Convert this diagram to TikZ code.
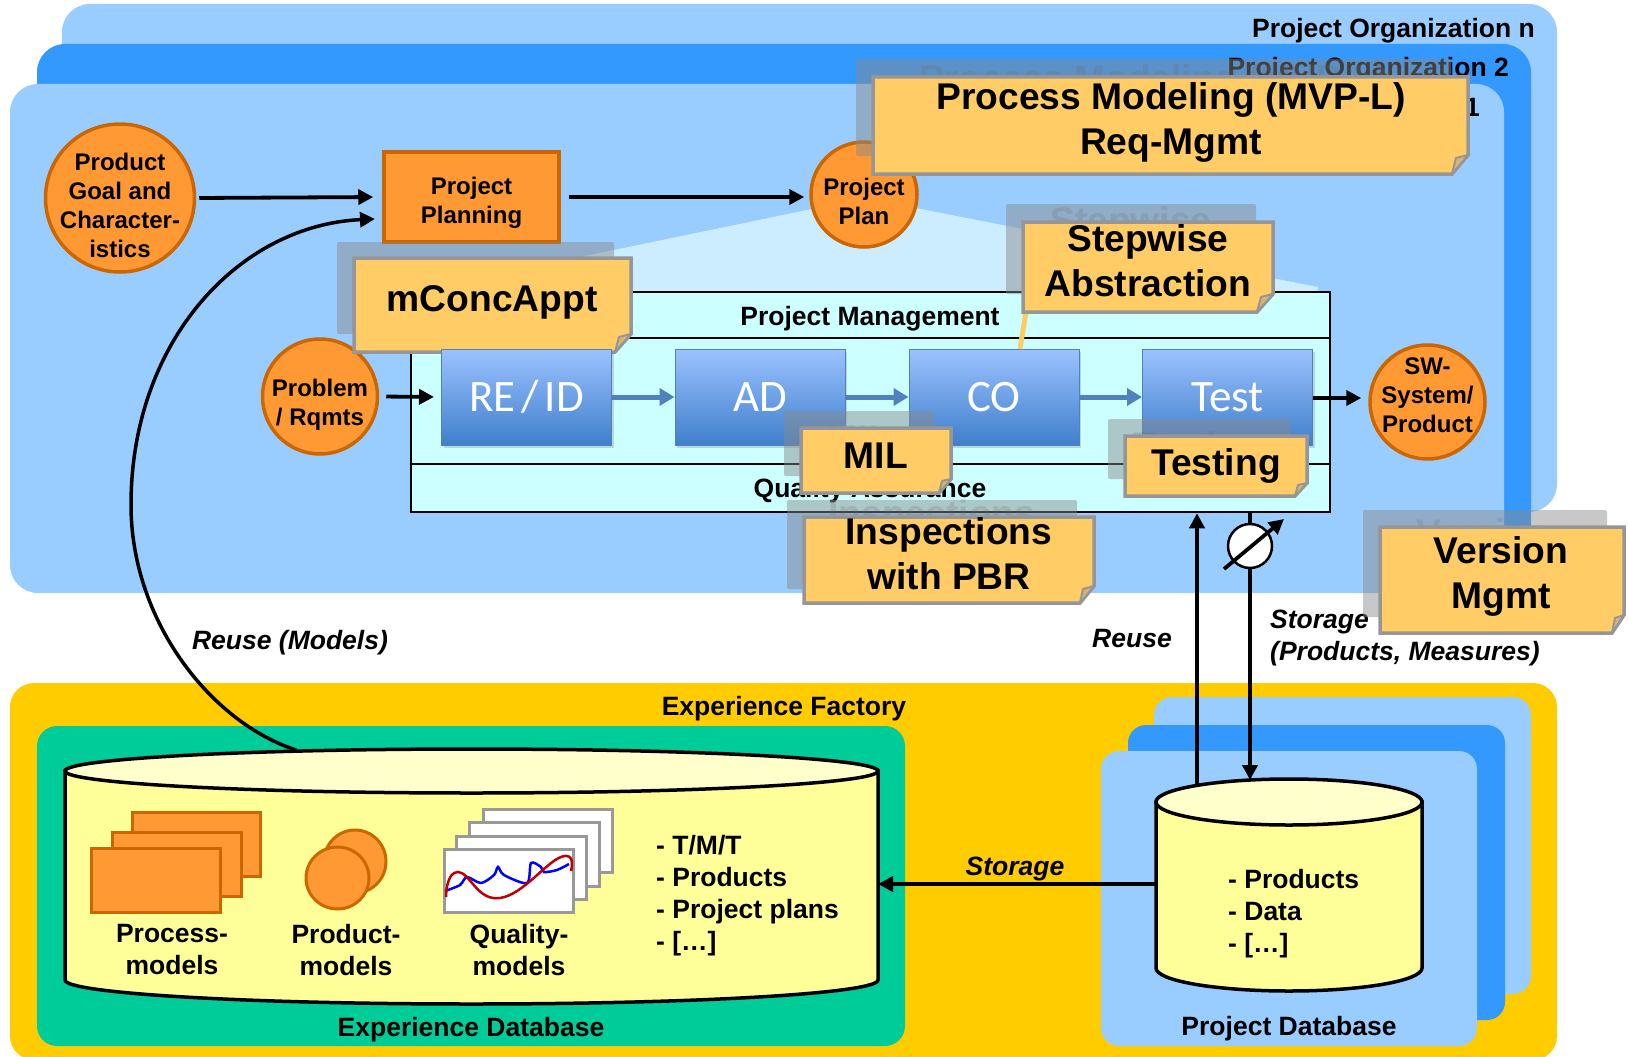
\documentclass[tikz,border=0pt]{standalone}
\usepackage{fontspec}
\usepackage{xcolor}
\setmainfont{Liberation Sans}
\newfontfamily\boxfont{Carlito}
\usetikzlibrary{arrows.meta,shapes.geometric,shadows}

\definecolor{orgblue}{HTML}{99CCFF}
\definecolor{orgdeep}{HTML}{3399FF}
\definecolor{conefill}{HTML}{CCECFF}
\definecolor{framefill}{HTML}{CCFFFF}
\definecolor{orangefill}{HTML}{FF9933}
\definecolor{orangeline}{HTML}{CC6600}
\definecolor{notefill}{HTML}{FFCC66}
\definecolor{noteline}{HTML}{969696}
\definecolor{shadegray}{HTML}{8A8A8A}
\definecolor{factory}{HTML}{FFCC00}
\definecolor{greenbase}{HTML}{00CC99}
\definecolor{dbside}{HTML}{FFFF99}
\definecolor{dbtop}{HTML}{FFFFCC}
\definecolor{stepline}{HTML}{4F81BD}
\definecolor{steptop}{HTML}{9CC2FF}
\definecolor{stepbottom}{HTML}{3F7FCC}

\tikzset{
  label24/.style={font=\fontsize{24}{29}\selectfont\bfseries,align=center,inner sep=0pt},
  label25/.style={font=\fontsize{26.5}{29}\selectfont\bfseries,align=center,inner sep=0pt},
  label32/.style={font=\fontsize{26.5}{32}\selectfont\bfseries,align=center,inner sep=0pt},
  listtext/.style={label32,align=left,anchor=west},
  slanted/.style={font=\fontsize{26.5}{30}\selectfont\bfseries\itshape,align=left,inner sep=0pt},
  blob/.style={ellipse,draw=orangeline,fill=orangefill,line width=3.5pt,inner sep=0pt},
  orangebox/.style={draw=orangeline,fill=orangefill,line width=3pt},
  chartbox/.style={draw=black!40,fill=white,line width=3pt},
  stepbox/.style={draw=stepline,line width=1pt,top color=steptop,bottom color=stepbottom,
    minimum width=170pt,minimum height=96pt,inner sep=0pt,text=white,font=\fontsize{45}{50}\selectfont\boxfont,
    drop shadow={shadow xshift=2pt,shadow yshift=-3pt,opacity=.3}},
  steparrow/.style={draw=stepline,line width=5pt,-{Triangle[length=15pt,width=17pt]}},
  arrow/.style={line width=3.8pt,-{Triangle[length=15pt,width=15pt]}},
  noteshade/.style={fill=shadegray,fill opacity=.47,rounded corners=2pt},
  notebody/.style={draw=noteline,fill=notefill,line width=3.5pt,line join=miter},
  notefold/.style={draw=noteline,fill=notefill!60!noteline,line width=2pt,line join=round},
  notetext/.style={font=\fontsize{37.2}{45}\selectfont\bfseries,align=center,inner sep=0pt},
  ghost/.style={notetext,text=black!60,text opacity=.2},
  cylinder body/.style={draw=black,fill=dbside,line width=3.5pt},
  cylinder lid/.style={draw=black,fill=dbtop,line width=3.5pt}
}

\begin{document}
\begin{tikzpicture}[x=1pt,y=-1pt]
\useasboundingbox (0,0) rectangle (1628,1057) ;

%project organizations
\fill [orgblue,rounded corners=28pt] (62,4) rectangle (1557,512) ;
\node [label25,anchor=east] (orgn) at (1535,31) {Project Organization n} ;
\fill [orgdeep,rounded corners=28pt] (37,44) rectangle (1531,560) ;
\node [label25,anchor=east] (orgtwo) at (1509,70) {Project Organization 2} ;
\fill [orgblue,rounded corners=28pt] (10,84) rectangle (1504,593) ;
\node [label25,anchor=east] (orgone) at (1480,110) {Project Organization 1} ;

%cone under the plan
\fill [conefill] (411,292) -- (865,198) -- (1318,287) -- (1318,320) -- (411,320) -- cycle ;

%project management frame
\node [draw,fill=framefill,line width=2.5pt,minimum width=919pt,minimum height=220pt,inner sep=0pt] (frame) at (870.5,402) {} ;
\draw [line width=2.5pt] (411,338) -- (1330,338) ;
\draw [line width=2.5pt] (411,464) -- (1330,464) ;
\node [label25] (mgmt) at (870,319) {Project Management} ;
\node [label25] (qa) at (870,491) {Quality Assurance} ;

%upper row
\node [blob,minimum width=149pt,minimum height=148pt,label={[label24,yshift=-7pt]center:{Product\\Goal and\\Character-\\istics}}] (goal) at (120,198) {} ;
\node [draw=orangeline,fill=orangefill,line width=3.5pt,minimum width=175pt,minimum height=90pt,label={[label24,yshift=-6pt]center:{Project\\Planning}}] (planning) at (471.5,197) {} ;
\node [blob,minimum width=106pt,minimum height=105pt,label={[label24,yshift=-7pt]center:{Project\\Plan}}] (plan) at (864,194.5) {} ;

%problem oval
\node [blob,minimum width=115pt,minimum height=115pt,label={[label24,yshift=-8pt]center:{Problem\\/ Rqmts}}] (problem) at (320,396.5) {} ;

%mconcappt note
\fill [noteshade,shift={(354,258)}] (-17,-16) rectangle (260,76) ;
\node [ghost] at (475,286) {mConcAppt} ;
\draw [notebody,shift={(354,258)}] (0,0) -- (277,0) -- (277,76) -- (261,94) -- (0,94) -- cycle ;
\draw [notefold,shift={(354,258)}] (261,94) -- (265,79) -- (277,76) -- cycle ;
\node [notetext] (conceptnote) at (492,302) {mConcAppt} ;

%process row
\node [stepbox] (reid) at (526.5,397) {\spaceskip=.13em RE / ID} ;
\node [stepbox] (ad) at (760,397) {AD} ;
\node [stepbox] (co) at (994,397) {CO} ;
\node [stepbox] (test) at (1227.5,397) {Test} ;
\node [blob,minimum width=115pt,minimum height=114pt,label={[label24,yshift=7pt]center:{SW-\\System/\\Product}}] (product) at (1427.5,402) {} ;

\draw [steparrow] (reid) -- (ad) ;
\draw [steparrow] (ad) -- (co) ;
\draw [steparrow] (co) -- (test) ;

%upper and process arrows
\draw [arrow,shorten <=3pt,shorten >=9pt] (goal.east) -- (planning.west) ;
\draw [arrow,shorten <=8pt,shorten >=5pt] (planning.east) -- (plan.west |- planning.east) ;
\draw [arrow,shorten <=7pt,shorten >=7pt] (problem.east) -- (reid.west) ;
\draw [arrow,shorten >=7pt] (test.east |- 0,398) -- (product.west |- 0,398) ;

%experience factory
\fill [factory,rounded corners=24pt] (10,683) rectangle (1557,1060) ;
\node [label25] (factorytitle) at (784,709) {Experience Factory} ;
\fill [greenbase,rounded corners=20pt] (37,726) rectangle (905,1046) ;
\node [label25] (exptitle) at (471,1030) {Experience Database} ;

%project database sheets
\fill [orgblue,rounded corners=18pt] (1154,697) rectangle (1531,994) ;
\fill [orgdeep,rounded corners=18pt] (1128,725) rectangle (1505,1020) ;
\fill [orgblue,rounded corners=18pt] (1101,751) rectangle (1477,1046) ;
\node [label25] (projtitle) at (1289,1029) {Project Database} ;

%experience database cylinder
\draw [cylinder body] (65,771) -- (65,980) arc [start angle=180,end angle=360,x radius=406.5pt,y radius=24pt] -- (878,771) -- cycle ;
\draw [cylinder lid] (471.5,771) ellipse [x radius=406.5pt,y radius=22pt] ;

%project database cylinder
\draw [cylinder body] (1156,802) -- (1156,968) arc [start angle=180,end angle=360,x radius=133pt,y radius=23pt] -- (1422,802) -- cycle ;
\draw [cylinder lid] (1289,802) ellipse [x radius=133pt,y radius=23pt] ;

%process models
\draw [orangebox] (132,812) rectangle (260,876) ;
\draw [orangebox] (112,832) rectangle (241,896) ;
\draw [orangebox] (91,848) rectangle (220,912) ;
\node [label32] (processmodels) at (172,950) {Process-\\models} ;

%product models
\draw [orangebox] (355,861.5) ellipse [x radius=31pt,y radius=31.5pt] ;
\draw [orangebox] (337.5,878) ellipse [x radius=31.5pt,y radius=31pt] ;
\node [label32] (productmodels) at (346,950) {Product-\\models} ;

%quality models
\draw [chartbox] (483,809) rectangle (612,872) ;
\draw [chartbox] (469.5,822) rectangle (599,886) ;
\draw [chartbox] (456,836) rectangle (586,899) ;
\draw [chartbox] (444,849) rectangle (573,912) ;
\draw [blue,line width=2.5pt] plot [smooth,tension=.5] coordinates {(445,891) (460,885) (467,877) (481,883) (494,875) (498,867) (504,875) (527,883) (531,863) (541,867) (544,872) (557,870) (569,864)} ;
\draw [red!75!black,line width=2.5pt] plot [smooth,tension=.8] coordinates {(446,897) (458,872) (500,898) (561,857) (571,871)} ;
\node [label32] (qualitymodels) at (519,950) {Quality-\\models} ;

%database lists
\node [listtext] (explist) at (656,896) {- T/M/T\\- Products\\- Project plans\\- […]} ;
\node [listtext] (projlist) at (1228,914) {- Products\\- Data\\- […]} ;

%database arrows
\coordinate (expside) at (878,884) ;
\coordinate (projside) at (1156,884) ;
\coordinate (projtopa) at (1197,785) ;
\coordinate (projtopb) at (1250,780) ;
\coordinate (exptop) at (296,750) ;
\coordinate (bend) at (131,505) ;
\coordinate (planningin) at (375,219) ;

\draw [arrow] (projside) -- (expside) ;
\draw [arrow] (projtopa) -- (projtopa |- frame.south) ;
\draw [arrow] (projtopb |- frame.south) -- (projtopb) ;
\draw [line width=3.5pt] (exptop) .. controls (210,722) and (131,620) .. (bend) ;
\draw [arrow,line width=3.5pt] (bend) .. controls (131,340) and (240,225) .. (planningin) ;

%measurement dial
\node [circle,draw,fill=white,line width=2.5pt,minimum size=44pt,inner sep=0pt] (dial) at (1250,546) {} ;
\coordinate (dialin) at (1224,569) ;
\coordinate (dialout) at (1284,519) ;
\draw [arrow] (dialin) -- (dialout) ;

%arrow labels
\node [slanted] (reusemodels) at (290,643) {Reuse (Models)} ;
\node [slanted] (reuse) at (1132,639) {Reuse} ;
\node [slanted,anchor=west] (storageout) at (1270,622) {Storage} ;
\node [slanted,anchor=west] (storagemeasures) at (1270,654) {(Products, Measures)} ;
\node [slanted] (storagein) at (1015,869) {Storage} ;

%connector of the abstraction note
\coordinate (stepfoot) at (1026,312) ;
\coordinate (cotop) at (1020,349) ;
\draw [notefill,line width=5pt] (stepfoot) -- (cotop) ;

%process modeling note
\fill [noteshade,shift={(873,77)}] (-17,-18) rectangle (578,79) ;
\node [ghost] at (1154,104) {Process Modeling (MVP-L)\\Req-Mgmt} ;
\draw [notebody,shift={(873,77)}] (0,0) -- (595,0) -- (595,78) -- (579,97) -- (0,97) -- cycle ;
\draw [notefold,shift={(873,77)}] (579,97) -- (583,81) -- (595,78) -- cycle ;
\node [notetext] (processnote) at (1171,122) {Process Modeling (MVP-L)\\Req-Mgmt} ;

%stepwise note
\fill [noteshade,shift={(1023,222)}] (-17,-18) rectangle (233,72) ;
\node [ghost] at (1131,243) {Stepwise\\Abstraction} ;
\draw [notebody,shift={(1023,222)}] (0,0) -- (250,0) -- (250,72) -- (234,90) -- (0,90) -- cycle ;
\draw [notefold,shift={(1023,222)}] (234,90) -- (238,75) -- (250,72) -- cycle ;
\node [notetext] (stepnote) at (1148,261) {Stepwise\\Abstraction} ;

%mil note
\fill [noteshade,shift={(801,428)}] (-17,-17) rectangle (133,48) ;
\node [ghost] at (859,439) {MIL} ;
\draw [notebody,shift={(801,428)}] (0,0) -- (150,0) -- (150,51) -- (138,65) -- (0,65) -- cycle ;
\draw [notefold,shift={(801,428)}] (138,65) -- (141,53) -- (150,51) -- cycle ;
\node [notetext] (milnote) at (876,456) {MIL} ;

%testing note
\fill [noteshade,shift={(1125,436)}] (-17,-17) rectangle (165,43) ;
\node [ghost] at (1198,449) {Testing} ;
\draw [notebody,shift={(1125,436)}] (0,0) -- (182,0) -- (182,47) -- (170,60) -- (0,60) -- cycle ;
\draw [notefold,shift={(1125,436)}] (170,60) -- (173,49) -- (182,47) -- cycle ;
\node [notetext] (testingnote) at (1216,466) {Testing} ;

%inspections note
\fill [noteshade,shift={(804,517)}] (-17,-17) rectangle (273,72) ;
\node [ghost] at (932,536) {Inspections\\with PBR} ;
\draw [notebody,shift={(804,517)}] (0,0) -- (290,0) -- (290,69) -- (276,86) -- (0,86) -- cycle ;
\draw [notefold,shift={(804,517)}] (276,86) -- (279,72) -- (290,69) -- cycle ;
\node [notetext] (inspectnote) at (949,554) {Inspections\\with PBR} ;

%version note
\fill [noteshade,shift={(1380,527)}] (-17,-17) rectangle (227,90) ;
\node [ghost] at (1484,558) {Version\\Mgmt} ;
\draw [notebody,shift={(1380,527)}] (0,0) -- (244,0) -- (244,88) -- (232,106) -- (0,106) -- cycle ;
\draw [notefold,shift={(1380,527)}] (232,106) -- (235,91) -- (244,88) -- cycle ;
\node [notetext] (versionnote) at (1501,576) {Version\\Mgmt} ;

\end{tikzpicture}
\end{document}
